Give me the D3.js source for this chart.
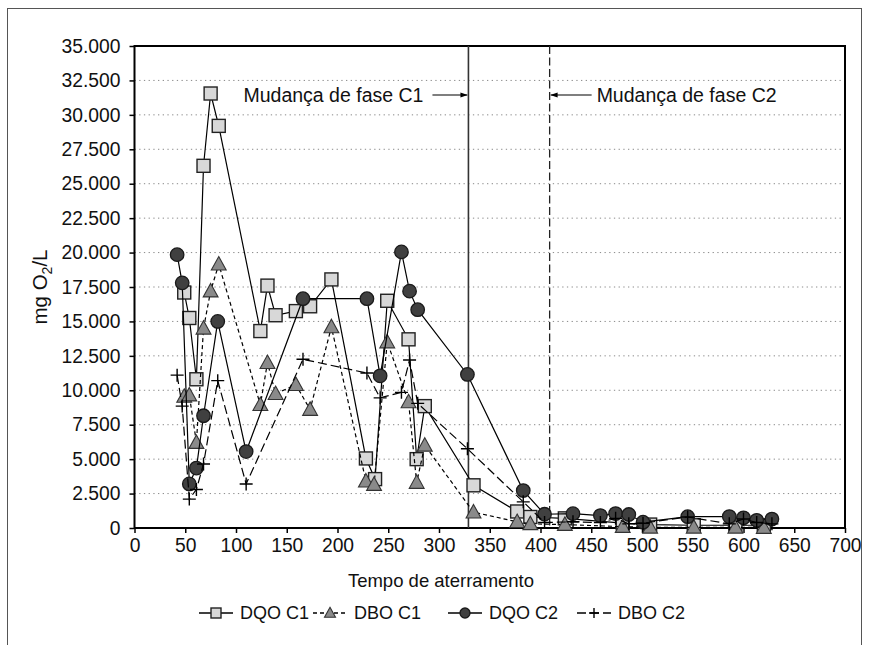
<!DOCTYPE html>
<html>
<head>
<meta charset="utf-8">
<script src="https://cdn.jsdelivr.net/npm/d3@7/dist/d3.min.js"></script>
<style>
  html, body { margin: 0; padding: 0; background: #fff; }
  svg { display: block; font-family: "Liberation Sans", Arial, sans-serif; }
</style>
</head>
<body>
<svg id="chart" width="870" height="645"></svg>
<script>
// Tempo de aterramento (dias) e concentrações (mg O2/L)
const xDqoC1 = [49, 54, 61, 68, 75, 83, 124, 131, 139, 159, 173, 194, 228, 237, 249, 270, 278, 286, 334, 377, 390, 424, 481, 508, 551, 592, 620];
const dqoC1  = [17100, 15250, 10800, 26300, 31550, 29200, 14300, 17600, 15450, 15750, 16100, 18050, 5050, 3550, 16500, 13700, 5000, 8850, 3100, 1200, 800, 700, 350, 250, 200, 200, 200];

const xDboC1 = [49, 54, 61, 68, 75, 83, 124, 131, 139, 159, 173, 194, 228, 236, 249, 270, 278, 286, 334, 377, 390, 424, 481, 508, 551, 592, 620];
const dboC1  = [9550, 9650, 6200, 14500, 17200, 19150, 8950, 12000, 9750, 10400, 8600, 14600, 3400, 3150, 13500, 9150, 3300, 6000, 1150, 450, 300, 250, 100, 50, 50, 50, 30];

const xDqoC2 = [42, 47, 54, 61, 68, 82, 110, 166, 229, 242, 263, 271, 279, 328, 383, 404, 432, 459, 474, 487, 501, 545, 586, 600, 613, 628];
const dqoC2  = [19850, 17800, 3200, 4350, 8150, 15000, 5550, 16650, 16650, 11050, 20050, 17200, 15850, 11150, 2720, 1000, 1040, 900, 1050, 980, 420, 820, 830, 740, 560, 650];

const xDboC2 = [42, 47, 54, 61, 68, 82, 110, 166, 229, 242, 263, 271, 279, 328, 383, 404, 432, 459, 474, 487, 501, 545, 586, 600, 613, 628];
const dboC2  = [11100, 8850, 2100, 2800, 4650, 10700, 3200, 12250, 11250, 9450, 9850, 12200, 9050, 5750, 1900, 400, 450, 400, 700, 300, 350, 800, 300, 650, 400, 300];

// Mudanças de fase
const faseC1 = 329;
const faseC2 = 409;

const yTicks = [0, 2500, 5000, 7500, 10000, 12500, 15000, 17500, 20000, 22500, 25000, 27500, 30000, 32500, 35000];
const xTicks = [0, 50, 100, 150, 200, 250, 300, 350, 400, 450, 500, 550, 600, 650, 700];

const series = [
  { name: "DQO C1", xs: xDqoC1, ys: dqoC1, marker: "square",   fill: "#d8d8d8", dash: null },
  { name: "DBO C1", xs: xDboC1, ys: dboC1, marker: "triangle", fill: "#8a8a8a", dash: "4,3" },
  { name: "DQO C2", xs: xDqoC2, ys: dqoC2, marker: "circle",   fill: "#404040", dash: null },
  { name: "DBO C2", xs: xDboC2, ys: dboC2, marker: "plus",     fill: "none",    dash: "9,4" }
];

const svg = d3.select("#chart");
const L = 134.5, R = 845, T = 46, B = 528;

const x = d3.scaleLinear().domain([0, 700]).range([L, R]);
const y = d3.scaleLinear().domain([0, 35000]).range([B, T]);

const ptBR = d3.formatLocale({ decimal: ",", thousands: ".", grouping: [3], currency: ["", ""] });
const fmt = ptBR.format(",");

// outer frame
svg.append("rect").attr("x", 7.5).attr("y", 8.5).attr("width", 854).attr("height", 660)
  .attr("fill", "none").attr("stroke", "#555").attr("stroke-width", 1);

// gridlines
svg.append("g").selectAll("line").data(yTicks.filter(d => d > 0 && d < 35000)).join("line")
  .attr("x1", L).attr("x2", R).attr("y1", d => y(d)).attr("y2", d => y(d))
  .attr("stroke", "#8a8a8a").attr("stroke-width", 1).attr("stroke-dasharray", "1.3,3.4");

// axes
const yAxis = svg.append("g").attr("transform", `translate(${L},0)`)
  .call(d3.axisLeft(y).tickValues(yTicks).tickFormat(fmt).tickSize(5).tickPadding(9));
const xAxis = svg.append("g").attr("transform", `translate(0,${B})`)
  .call(d3.axisBottom(x).tickValues(xTicks).tickFormat(d3.format("d")).tickSize(5).tickPadding(5));
[yAxis, xAxis].forEach(g => {
  g.select(".domain").remove();
  g.selectAll(".tick line").attr("stroke", "#000").attr("stroke-width", 1.5);
  g.selectAll(".tick text").attr("fill", "#111").style("font-size", "19.3px")
    .style("font-family", "'Liberation Sans', Arial, sans-serif");
});

// plot box
svg.append("rect").attr("x", L).attr("y", T).attr("width", R - L).attr("height", B - T)
  .attr("fill", "none").attr("stroke", "#000").attr("stroke-width", 2);

// phase change lines
svg.append("line").attr("x1", x(faseC1)).attr("x2", x(faseC1)).attr("y1", T).attr("y2", B)
  .attr("stroke", "#333").attr("stroke-width", 1.6);
svg.append("line").attr("x1", x(faseC2)).attr("x2", x(faseC2)).attr("y1", T).attr("y2", B)
  .attr("stroke", "#222").attr("stroke-width", 1.3).attr("stroke-dasharray", "8,3.5");

const defs = svg.append("defs");
defs.append("marker").attr("id", "arrow").attr("viewBox", "0 0 10 10")
  .attr("refX", 10).attr("refY", 5).attr("markerWidth", 7).attr("markerHeight", 7)
  .attr("markerUnits", "userSpaceOnUse").attr("orient", "auto")
  .append("path").attr("d", "M0,1.5 L10,5 L0,8.5 Z").attr("fill", "#000");

const annY = 95;
svg.append("text").attr("x", x(faseC1) - 45).attr("y", annY).attr("dy", "0.35em")
  .attr("text-anchor", "end").style("font-size", "19.5px").attr("fill", "#111")
  .text("Mudança de fase C1");
svg.append("line").attr("x1", x(faseC1) - 36).attr("x2", x(faseC1) - 1).attr("y1", annY).attr("y2", annY)
  .attr("stroke", "#000").attr("stroke-width", 1.2).attr("marker-end", "url(#arrow)");
svg.append("text").attr("x", x(faseC2) + 47).attr("y", annY).attr("dy", "0.35em")
  .attr("text-anchor", "start").style("font-size", "19.5px").attr("fill", "#111")
  .text("Mudança de fase C2");
svg.append("line").attr("x1", x(faseC2) + 42).attr("x2", x(faseC2) + 1).attr("y1", annY).attr("y2", annY)
  .attr("stroke", "#000").attr("stroke-width", 1.2).attr("marker-end", "url(#arrow)");

// marker drawing
function drawMarker(g, type, fill, s) {
  if (type === "square") {
    g.append("rect").attr("x", -s / 2).attr("y", -s / 2).attr("width", s).attr("height", s)
      .attr("fill", fill).attr("stroke", "#222").attr("stroke-width", 1.4);
  } else if (type === "triangle") {
    const h = s * 0.95;
    g.append("path").attr("d", `M0,${-h * 0.6} L${s * 0.55},${h * 0.45} L${-s * 0.55},${h * 0.45} Z`)
      .attr("fill", fill).attr("stroke", "#333").attr("stroke-width", 1.1);
  } else if (type === "circle") {
    g.append("circle").attr("r", s / 2).attr("fill", fill).attr("stroke", "#1a1a1a").attr("stroke-width", 1.3);
  } else if (type === "plus") {
    g.append("path").attr("d", `M${-s / 2},0 H${s / 2} M0,${-s / 2} V${s / 2}`)
      .attr("stroke", "#000").attr("stroke-width", 1.4).attr("fill", "none");
  }
}
const markerSize = { square: 13, triangle: 13.5, circle: 13.5, plus: 13 };

const line = d3.line().x(d => x(d[0])).y(d => y(d[1]));
series.forEach(s => {
  const pts = s.xs.map((v, i) => [v, s.ys[i]]);
  const g = svg.append("g");
  g.append("path").datum(pts).attr("d", line).attr("fill", "none")
    .attr("stroke", "#000").attr("stroke-width", 1.2)
    .attr("stroke-dasharray", s.dash);
  g.selectAll("g.m").data(pts).join("g").attr("class", "m")
    .attr("transform", d => `translate(${x(d[0])},${y(d[1])})`)
    .each(function () { drawMarker(d3.select(this), s.marker, s.fill, markerSize[s.marker]); });
});

// axis titles
svg.append("text").attr("x", 441).attr("y", 581).attr("dy", "0.35em")
  .attr("text-anchor", "middle").style("font-size", "18.5px").attr("fill", "#111")
  .text("Tempo de aterramento");
const yt = svg.append("text").attr("transform", `translate(40,${(T + B) / 2}) rotate(-90)`)
  .attr("text-anchor", "middle").attr("dy", "0.35em").style("font-size", "20.5px").attr("fill", "#111");
yt.append("tspan").text("mg O");
yt.append("tspan").attr("dy", "5").style("font-size", "14px").text("2");
yt.append("tspan").attr("dy", "-5").text("/L");

// legend
const legendStarts = [199, 313, 448, 577];
const legY = 613;
series.forEach((s, i) => {
  const g = svg.append("g").attr("transform", `translate(${legendStarts[i]},${legY})`);
  g.append("line").attr("x1", 0).attr("x2", 34).attr("y1", 0).attr("y2", 0)
    .attr("stroke", "#000").attr("stroke-width", 1.3).attr("stroke-dasharray", s.dash);
  const m = g.append("g").attr("transform", "translate(17,0)");
  drawMarker(m, s.marker, s.fill, 10);
  g.append("text").attr("x", 41).attr("y", 0).attr("dy", "0.35em")
    .style("font-size", "18px").attr("fill", "#111").text(s.name);
});
</script>
</body>
</html>
